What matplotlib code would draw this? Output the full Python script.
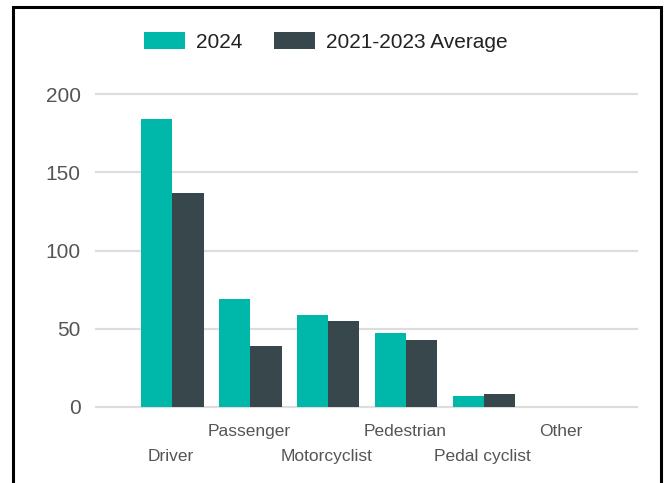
import matplotlib
matplotlib.use("Agg")
import matplotlib.pyplot as plt
from matplotlib.patches import Rectangle, Patch
import numpy as np

categories = ["Driver", "Passenger", "Motorcyclist", "Pedestrian", "Pedal cyclist", "Other"]
series_names = ["2024", "2021-2023 Average"]
values_2024 = [184, 69, 59, 47, 7, 0]
values_avg = [137, 39, 55, 43, 8, 0]
yticks = [0, 50, 100, 150, 200]

teal = "#00B8AA"
dark = "#37474B"
grid_c = "#DDDDDD"
label_c = "#555555"

plt.rcParams['font.family'] = ['Liberation Sans', 'DejaVu Sans']

W, H = 667, 483
fig = plt.figure(figsize=(W / 100, H / 100), dpi=100)
ax = fig.add_axes([96 / W, 1 - 407 / H, (637 - 96) / W, (407 - 94) / H])

x = np.arange(len(categories))
bw = 0.4
ax.bar(x - bw / 2, values_2024, bw, color=teal, zorder=3)
ax.bar(x + bw / 2, values_avg, bw, color=dark, zorder=3)

ax.set_xlim(-0.98, 5.96)
ax.set_ylim(0, 200)
for yv in yticks:
    ax.axhline(yv, color=grid_c, lw=1.6, zorder=1, clip_on=False)

ax.set_yticks(yticks)
ax.set_yticklabels([str(v) for v in yticks], fontsize=15, color=label_c)
ax.tick_params(axis='y', length=0, pad=11)
ax.set_xticks([])
for s in ax.spines.values():
    s.set_visible(False)

trans = ax.get_xaxis_transform()
for i, c in enumerate(categories):
    yy = -0.158 if i % 2 == 0 else -0.077
    ax.text(x[i] - 0.02, yy, c, transform=trans, ha='center', va='center',
            fontsize=12.5, color=label_c)

handles = [Patch(facecolor=teal, edgecolor='none'), Patch(facecolor=dark, edgecolor='none')]
leg = fig.legend(handles, series_names, loc='center', bbox_to_anchor=(326 / W, 1 - 42 / H),
                 ncol=2, frameon=False, fontsize=15, handlelength=1.97, handleheight=0.87,
                 handletextpad=0.53, columnspacing=1.5, borderpad=0, borderaxespad=0)
for t in leg.get_texts():
    t.set_color("#222222")

fig.patches.append(Rectangle((13.5 / W, -0.1), (660.5 - 13.5) / W, 1.1 - 7 / H,
                             transform=fig.transFigure, fill=False, edgecolor='black',
                             lw=2.2, clip_on=False))

fig.savefig("out.png", dpi=100)
